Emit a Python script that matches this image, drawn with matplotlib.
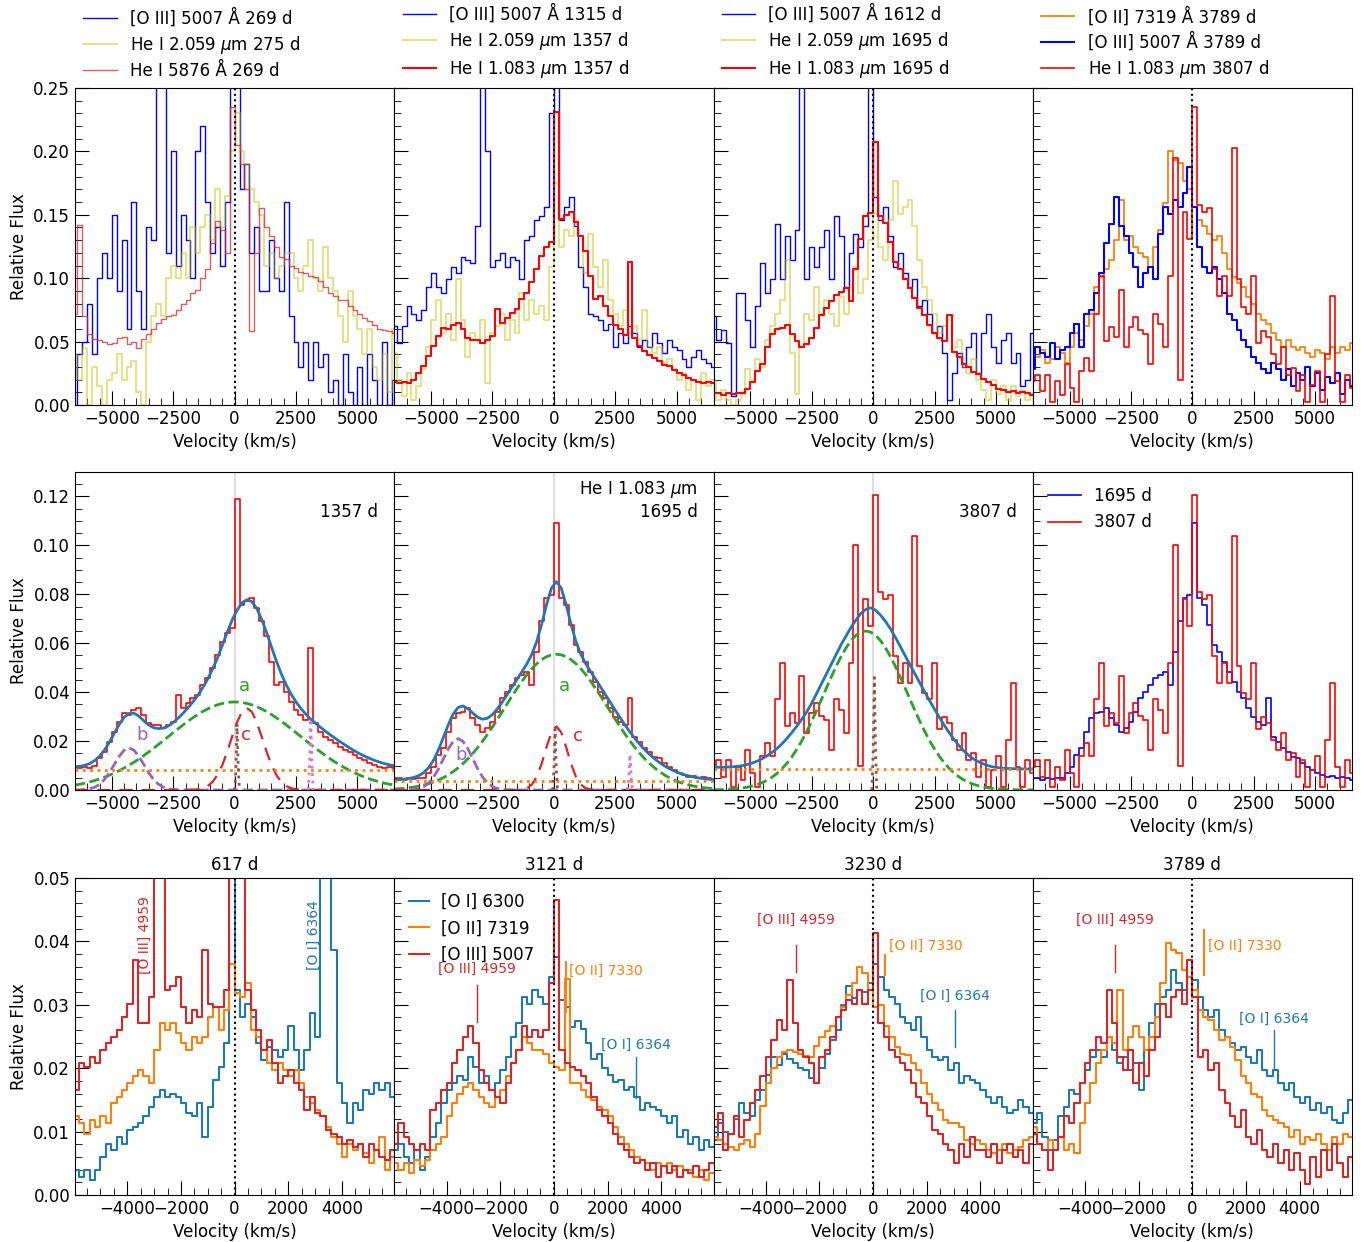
import numpy as np
import matplotlib
matplotlib.use('Agg')
import matplotlib.pyplot as plt
from matplotlib.ticker import MultipleLocator

plt.rcParams['font.size'] = 12

# velocity grids (km/s)
vel = np.arange(-6500, 6501, 200)    # rows 1-2
vel3 = np.arange(-6100, 6101, 200)   # row 3

# ---------------- row 1 spectra (relative flux) ----------------
o3_269 = [0.0, 0.04, 0.05, 0.08, 0.04, 0.10, 0.12, 0.10, 0.15, 0.09, 0.13,
          0.06, 0.16, 0.09, 0.06, 0.14, 0.13, 0.27, 0.27, 0.12, 0.20, 0.11,
          0.15, 0.13, 0.10, 0.20, 0.22, 0.16, 0.12, 0.14, 0.11, 0.16, 0.27,
          0.27, 0.17, 0.19, 0.12, 0.14, 0.09, 0.09, 0.13, 0.10, 0.09, 0.16,
          0.07, 0.05, 0.03, 0.05, 0.02, 0.05, 0.03, 0.04, 0.01, 0.02, 0.0,
          0.04, 0.01, 0.0, 0.03, 0.0, 0.04, 0.02, 0.0, 0.05, 0.0, 0.02]
hei2_275 = [0.04, 0.02, 0.045, 0.0, 0.03, 0.015, 0.0, 0.02, 0.025, 0.04, 0.02,
            0.03, 0.035, 0.01, 0.0, 0.05, 0.07, 0.08, 0.07, 0.10, 0.11, 0.10,
            0.12, 0.10, 0.14, 0.12, 0.14, 0.15, 0.13, 0.17, 0.14, 0.165, 0.20,
            0.23, 0.20, 0.19, 0.17, 0.16, 0.15, 0.11, 0.12, 0.10, 0.11, 0.12,
            0.12, 0.10, 0.09, 0.11, 0.13, 0.10, 0.09, 0.125, 0.10, 0.09, 0.07,
            0.05, 0.09, 0.07, 0.06, 0.04, 0.06, 0.03, 0.02, 0.04, 0.01, 0.06]
hei5876_269 = [0.072, 0.142, 0.070, 0.056, 0.052, 0.051, 0.050, 0.048, 0.049, 0.053, 0.054,
               0.048, 0.050, 0.045, 0.052, 0.056, 0.060, 0.065, 0.068, 0.070, 0.071, 0.075,
               0.080, 0.083, 0.088, 0.091, 0.100, 0.107, 0.128, 0.145, 0.138, 0.120, 0.235,
               0.205, 0.190, 0.170, 0.058, 0.120, 0.155, 0.140, 0.133, 0.125, 0.117, 0.115,
               0.110, 0.108, 0.105, 0.104, 0.102, 0.101, 0.098, 0.093, 0.088, 0.086, 0.083,
               0.083, 0.078, 0.075, 0.072, 0.069, 0.066, 0.063, 0.060, 0.059, 0.058, 0.057]

o3_1315 = [0.062, 0.049, 0.062, 0.078, 0.072, 0.067, 0.075, 0.093, 0.104, 0.093, 0.088,
           0.099, 0.109, 0.104, 0.117, 0.114, 0.112, 0.141, 0.27, 0.20, 0.109, 0.114,
           0.120, 0.109, 0.117, 0.114, 0.099, 0.130, 0.133, 0.146, 0.149, 0.156, 0.23,
           0.27, 0.146, 0.156, 0.164, 0.141, 0.109, 0.093, 0.072, 0.070, 0.067, 0.059,
           0.064, 0.046, 0.057, 0.049, 0.062, 0.057, 0.046, 0.051, 0.046, 0.057, 0.049,
           0.041, 0.051, 0.046, 0.043, 0.036, 0.030, 0.038, 0.043, 0.036, 0.033, 0.030]
hei2_1357 = [0.041, 0.020, 0.007, 0.025, 0.004, 0.015, 0.028, 0.046, 0.067, 0.083, 0.057,
             0.072, 0.051, 0.099, 0.067, 0.038, 0.057, 0.051, 0.067, 0.017, 0.057, 0.062,
             0.072, 0.051, 0.067, 0.057, 0.088, 0.067, 0.083, 0.072, 0.078, 0.067, 0.109,
             0.175, 0.125, 0.138, 0.133, 0.146, 0.133, 0.104, 0.135, 0.109, 0.093, 0.114,
             0.083, 0.072, 0.062, 0.075, 0.057, 0.062, 0.051, 0.075, 0.046, 0.041, 0.046,
             0.033, 0.036, 0.028, 0.020, 0.025, 0.012, 0.020, 0.004, 0.025, 0.015, 0.020]

o3_1612 = [0.070, 0.051, 0.059, 0.049, 0.007, 0.088, 0.088, 0.067, 0.046, 0.078, 0.112,
           0.088, 0.099, 0.143, 0.099, 0.133, 0.114, 0.138, 0.27, 0.099, 0.125, 0.109,
           0.125, 0.138, 0.099, 0.149, 0.133, 0.093, 0.120, 0.135, 0.125, 0.141, 0.27,
           0.164, 0.146, 0.156, 0.133, 0.109, 0.120, 0.104, 0.093, 0.099, 0.078, 0.083,
           0.072, 0.057, 0.062, 0.041, 0.004, 0.025, 0.041, 0.030, 0.046, 0.057, 0.025,
           0.057, 0.072, 0.046, 0.033, 0.051, 0.057, 0.033, 0.041, 0.015, 0.020, 0.057]
hei2_1695 = [0.020, 0.004, 0.012, 0.004, 0.0, 0.004, 0.009, 0.028, 0.020, 0.036, 0.030,
             0.051, 0.062, 0.072, 0.083, 0.114, 0.041, 0.009, 0.046, 0.072, 0.067, 0.093,
             0.072, 0.083, 0.072, 0.062, 0.085, 0.072, 0.093, 0.109, 0.088, 0.099, 0.130,
             0.151, 0.125, 0.114, 0.146, 0.177, 0.151, 0.156, 0.162, 0.141, 0.114, 0.093,
             0.083, 0.072, 0.057, 0.062, 0.067, 0.046, 0.051, 0.030, 0.025, 0.036, 0.020,
             0.012, 0.004, 0.020, 0.009, 0.015, 0.004, 0.015, 0.007, 0.012, 0.004, 0.009]

o2_3789_r1 = [0.046, 0.038, 0.043, 0.033, 0.036, 0.046, 0.041, 0.033, 0.046, 0.057, 0.051,
              0.062, 0.072, 0.093, 0.101, 0.107, 0.114, 0.130, 0.162, 0.130, 0.133, 0.125,
              0.120, 0.117, 0.109, 0.125, 0.138, 0.159, 0.200, 0.193, 0.191, 0.177, 0.170,
              0.156, 0.146, 0.141, 0.135, 0.130, 0.133, 0.120, 0.107, 0.101, 0.096, 0.093,
              0.085, 0.080, 0.072, 0.067, 0.064, 0.057, 0.051, 0.046, 0.051, 0.046, 0.043,
              0.046, 0.041, 0.038, 0.043, 0.041, 0.036, 0.046, 0.041, 0.046, 0.043, 0.049]
o3_3789_r1 = [0.028, 0.046, 0.041, 0.038, 0.049, 0.036, 0.043, 0.046, 0.057, 0.064, 0.046,
              0.072, 0.075, 0.088, 0.104, 0.128, 0.143, 0.164, 0.141, 0.133, 0.120, 0.109,
              0.093, 0.104, 0.109, 0.099, 0.135, 0.156, 0.151, 0.162, 0.156, 0.167, 0.188,
              0.156, 0.125, 0.109, 0.104, 0.109, 0.099, 0.088, 0.072, 0.067, 0.059, 0.051,
              0.046, 0.038, 0.033, 0.028, 0.025, 0.033, 0.028, 0.020, 0.028, 0.015, 0.025,
              0.020, 0.030, 0.015, 0.025, 0.012, 0.022, 0.017, 0.025, 0.009, 0.020, 0.015]

# ---------------- He I 1.083 um spectra (row 2 normalisation) ----------------
hei_1357 = [0.0095, 0.0091, 0.0095, 0.0090, 0.0100, 0.0130, 0.0157, 0.0198, 0.0239, 0.0280, 0.0314,
            0.0307, 0.0327, 0.0334, 0.0307, 0.0273, 0.0266, 0.0266, 0.0252, 0.0266, 0.0280, 0.0389,
            0.0334, 0.0355, 0.0375, 0.0389, 0.0430, 0.0457, 0.0498, 0.0552, 0.0607, 0.0641, 0.0662,
            0.1190, 0.0757, 0.0771, 0.0784, 0.0743, 0.0689, 0.0628, 0.0525, 0.0430, 0.0443, 0.0402,
            0.0361, 0.0327, 0.0307, 0.0286, 0.0580, 0.0273, 0.0239, 0.0218, 0.0205, 0.0191, 0.0177,
            0.0164, 0.0157, 0.0143, 0.0130, 0.0123, 0.0109, 0.0102, 0.0095, 0.0089, 0.0095, 0.0089]
hei_1695 = [0.0048, 0.0048, 0.0041, 0.0048, 0.0045, 0.0048, 0.0050, 0.0068, 0.0095, 0.0143, 0.0170,
            0.0239, 0.0293, 0.0314, 0.0320, 0.0334, 0.0293, 0.0266, 0.0239, 0.0252, 0.0280, 0.0320,
            0.0375, 0.0402, 0.0430, 0.0457, 0.0470, 0.0484, 0.0430, 0.0566, 0.0689, 0.0784, 0.0798,
            0.1090, 0.0784, 0.0757, 0.0675, 0.0593, 0.0566, 0.0525, 0.0484, 0.0443, 0.0402, 0.0375,
            0.0334, 0.0300, 0.0280, 0.0266, 0.0375, 0.0218, 0.0198, 0.0170, 0.0157, 0.0136, 0.0130,
            0.0109, 0.0095, 0.0082, 0.0068, 0.0061, 0.0055, 0.0059, 0.0048, 0.0055, 0.0048, 0.0041]
hei_3807 = [0.0096, 0.0123, 0.0055, 0.0123, 0.0014, 0.0096, 0.0041, 0.0165, 0.0069, 0.0014, 0.0137,
            0.0192, 0.0137, 0.0370, 0.0520, 0.0260, 0.0315, 0.0274, 0.0466, 0.0233, 0.0315, 0.0357,
            0.0302, 0.0288, 0.0165, 0.0370, 0.0329, 0.0233, 0.0520, 0.1000, 0.0100, 0.0782, 0.0672,
            0.1207, 0.0810, 0.0782, 0.0796, 0.0549, 0.0439, 0.0520, 0.0439, 0.1040, 0.0508, 0.0398,
            0.0370, 0.0520, 0.0250, 0.0300, 0.0274, 0.0206, 0.0165, 0.0233, 0.0123, 0.0150, 0.0055,
            0.0123, 0.0014, 0.0082, 0.0137, 0.0014, 0.0206, 0.0439, 0.0096, 0.0014, 0.0123, 0.0069]
scale_1357, scale_1695, scale_3807 = 1.94, 1.90, 1.95   # row-1 normalisation

# ---------------- row 2 fit components ----------------
p1_fit = [0.0095, 0.0097, 0.0101, 0.0108, 0.0120, 0.0138, 0.0163, 0.0195, 0.0232, 0.0268, 0.0297,
          0.0313, 0.0314, 0.0302, 0.0283, 0.0266, 0.0255, 0.0251, 0.0253, 0.0262, 0.0276, 0.0294,
          0.0314, 0.0336, 0.0360, 0.0387, 0.0418, 0.0453, 0.0494, 0.0540, 0.0592, 0.0645, 0.0695,
          0.0735, 0.0765, 0.0778, 0.0770, 0.0742, 0.0698, 0.0644, 0.0585, 0.0527, 0.0475, 0.0430,
          0.0392, 0.0360, 0.0333, 0.0310, 0.0290, 0.0272, 0.0256, 0.0240, 0.0225, 0.0211, 0.0197,
          0.0184, 0.0171, 0.0159, 0.0148, 0.0138, 0.0129, 0.0121, 0.0114, 0.0108, 0.0103, 0.0099]
p1_a = [0.00199, 0.00237, 0.0028, 0.00331, 0.00388, 0.00452, 0.00524, 0.00605, 0.00694, 0.00791, 0.00898,
        0.01013, 0.01136, 0.01268, 0.01408, 0.01554, 0.01706, 0.01862, 0.02022, 0.02184, 0.02345, 0.02505,
        0.0266, 0.0281, 0.02953, 0.03085, 0.03206, 0.03313, 0.03405, 0.03481, 0.03539, 0.03578, 0.03598,
        0.03598, 0.03578, 0.03539, 0.03481, 0.03405, 0.03313, 0.03206, 0.03085, 0.02953, 0.0281, 0.0266,
        0.02505, 0.02345, 0.02184, 0.02022, 0.01862, 0.01706, 0.01554, 0.01408, 0.01268, 0.01136, 0.01013,
        0.00898, 0.00791, 0.00694, 0.00605, 0.00524, 0.00452, 0.00388, 0.00331, 0.0028, 0.00237, 0.00199]
p1_b = [0.00002, 0.00007, 0.00019, 0.00049, 0.00113, 0.00233, 0.00429, 0.00707, 0.01043, 0.01377, 0.01627,
        0.0172, 0.01627, 0.01377, 0.01043, 0.00707, 0.00429, 0.00233, 0.00113, 0.00049, 0.00019, 0.00007,
        0.00002, 0, 0, 0, 0, 0, 0, 0, 0, 0, 0,
        0, 0, 0, 0, 0, 0, 0, 0, 0, 0, 0,
        0, 0, 0, 0, 0, 0, 0, 0, 0, 0, 0,
        0, 0, 0, 0, 0, 0, 0, 0, 0, 0, 0]
p1_c = [0, 0, 0, 0, 0, 0, 0, 0, 0, 0, 0,
        0, 0, 0, 0, 0, 0, 0, 0, 0, 0, 0,
        0.00001, 0.00004, 0.00011, 0.00029, 0.00072, 0.00162, 0.00329, 0.0061, 0.01026, 0.01571, 0.02188,
        0.02772, 0.03195, 0.0335, 0.03195, 0.02772, 0.02188, 0.01571, 0.01026, 0.0061, 0.00329, 0.00162,
        0.00072, 0.00029, 0.00011, 0.00004, 0.00001, 0, 0, 0, 0, 0, 0,
        0, 0, 0, 0, 0, 0, 0, 0, 0, 0, 0]
p1_cont = 0.0083
p1_narrow_v, p1_narrow_f = [0, 50, 100, 150, 200], [0, 0.008, 0.027, 0.008, 0]
p1_pink_v, p1_pink_f = [3000, 3050, 3100, 3150, 3200], [0, 0.01, 0.029, 0.01, 0]

p2_a = [0.0004, 0.00053, 0.00071, 0.00094, 0.00123, 0.00159, 0.00204, 0.00259, 0.00326, 0.00407, 0.00504,
        0.00618, 0.00751, 0.00905, 0.0108, 0.01277, 0.01496, 0.01738, 0.0200, 0.02282, 0.02579, 0.02888,
        0.03206, 0.03527, 0.03844, 0.04152, 0.04444, 0.04714, 0.04955, 0.05162, 0.05328, 0.0545, 0.05525,
        0.0555, 0.05525, 0.0545, 0.05328, 0.05162, 0.04955, 0.04714, 0.04444, 0.04152, 0.03844, 0.03527,
        0.03206, 0.02888, 0.02579, 0.02282, 0.0200, 0.01738, 0.01496, 0.01277, 0.0108, 0.00905, 0.00751,
        0.00618, 0.00504, 0.00407, 0.00326, 0.00259, 0.00204, 0.00159, 0.00123, 0.00094, 0.00071, 0.00053]
p2_b = [0.0, 0.00001, 0.00003, 0.00008, 0.00023, 0.0006, 0.00138, 0.00284, 0.00524, 0.00863, 0.01274,
        0.01681, 0.01987, 0.021, 0.01987, 0.01681, 0.01274, 0.00863, 0.00524, 0.00284, 0.00138, 0.0006,
        0.00023, 0.00008, 0.00003, 0.00001, 0, 0, 0, 0, 0, 0, 0,
        0, 0, 0, 0, 0, 0, 0, 0, 0, 0, 0,
        0, 0, 0, 0, 0, 0, 0, 0, 0, 0, 0,
        0, 0, 0, 0, 0, 0, 0, 0, 0, 0, 0]
p2_c = [0, 0, 0, 0, 0, 0, 0, 0, 0, 0, 0,
        0, 0, 0, 0, 0, 0, 0, 0, 0, 0, 0,
        0, 0, 0, 0.00005, 0.00021, 0.00074, 0.0022, 0.00536, 0.01069, 0.01751, 0.02355,
        0.026, 0.02355, 0.01751, 0.01069, 0.00536, 0.0022, 0.00074, 0.00021, 0.00005, 0, 0,
        0, 0, 0, 0, 0, 0, 0, 0, 0, 0, 0,
        0, 0, 0, 0, 0, 0, 0, 0, 0, 0, 0]
p2_cont = 0.0037
p2_narrow_v, p2_narrow_f = [-50, 0, 50, 100, 150], [0, 0.008, 0.025, 0.008, 0]
p2_pink_v, p2_pink_f = [3000, 3050, 3100, 3150, 3200], [0, 0.005, 0.0145, 0.005, 0]

p3_a = [0.00008, 0.00013, 0.00019, 0.00029, 0.00042, 0.0006, 0.00086, 0.00121, 0.00167, 0.00228, 0.00307,
        0.00408, 0.00534, 0.0069, 0.0088, 0.01106, 0.0137, 0.01674, 0.02018, 0.02399, 0.02813, 0.03254,
        0.03711, 0.04174, 0.04631, 0.05067, 0.05467, 0.05819, 0.06107, 0.06323, 0.06455, 0.065, 0.06455,
        0.06323, 0.06107, 0.05819, 0.05467, 0.05067, 0.04631, 0.04174, 0.03711, 0.03254, 0.02813, 0.02399,
        0.02018, 0.01674, 0.0137, 0.01106, 0.0088, 0.0069, 0.00534, 0.00408, 0.00307, 0.00228, 0.00167,
        0.00121, 0.00086, 0.0006, 0.00042, 0.00029, 0.00019, 0.00013, 0.00008, 0.00005, 0.00003, 0.00002]
p3_fit = [0.0093, 0.0093, 0.0093, 0.0094, 0.0095, 0.0097, 0.0100, 0.0105, 0.0111, 0.0119, 0.0129,
          0.0141, 0.0155, 0.0171, 0.0190, 0.0212, 0.0236, 0.0262, 0.0290, 0.0320, 0.0355, 0.0395,
          0.0435, 0.0475, 0.0515, 0.0555, 0.0595, 0.0630, 0.0665, 0.0695, 0.0722, 0.0738, 0.0745,
          0.0735, 0.0715, 0.0690, 0.0660, 0.0625, 0.0588, 0.0550, 0.0512, 0.0475, 0.0438, 0.0401,
          0.0365, 0.0330, 0.0296, 0.0264, 0.0234, 0.0206, 0.0181, 0.0159, 0.0141, 0.0126, 0.0115,
          0.0106, 0.0099, 0.0094, 0.0091, 0.0089, 0.0088, 0.0087, 0.0087, 0.0086, 0.0086, 0.0086]
p3_cont = 0.0085
p3_narrow_v, p3_narrow_f = [-50, 0, 50, 100, 150], [0, 0.015, 0.046, 0.015, 0]

# ---------------- row 3 spectra ----------------
o1_617 = [0.0045, 0.0039, 0.0029, 0.0039, 0.0024, 0.0039, 0.0060, 0.0081, 0.0071, 0.0092,
          0.0081, 0.0103, 0.0108, 0.0113, 0.0124, 0.0139, 0.0155, 0.0166, 0.0155, 0.0160,
          0.0155, 0.0145, 0.0129, 0.0124, 0.0145, 0.0092, 0.0139, 0.0181, 0.0202, 0.0239,
          0.0550, 0.0323, 0.0281, 0.0302, 0.0281, 0.0239, 0.0213, 0.0234, 0.0229, 0.0218,
          0.0229, 0.0266, 0.0229, 0.0197, 0.0229, 0.0287, 0.0250, 0.0550, 0.0550, 0.0386,
          0.0176, 0.0145, 0.0113, 0.0145, 0.0134, 0.0166, 0.0160, 0.0176, 0.0166, 0.0176,
          0.0155, 0.0150]
o2_617 = [0.0110, 0.0124, 0.0113, 0.0097, 0.0118, 0.0108, 0.0124, 0.0113, 0.0145, 0.0155,
          0.0166, 0.0176, 0.0187, 0.0197, 0.0187, 0.0176, 0.0229, 0.0271, 0.0260, 0.0271,
          0.0255, 0.0239, 0.0229, 0.0250, 0.0239, 0.0250, 0.0281, 0.0297, 0.0260, 0.0292,
          0.0365, 0.0318, 0.0313, 0.0334, 0.0260, 0.0250, 0.0229, 0.0208, 0.0197, 0.0208,
          0.0197, 0.0187, 0.0197, 0.0176, 0.0155, 0.0145, 0.0134, 0.0124, 0.0108, 0.0092,
          0.0081, 0.0060, 0.0081, 0.0071, 0.0081, 0.0066, 0.0050, 0.0071, 0.0092, 0.0039,
          0.0060, 0.0050]
o3_617 = [0.0200, 0.0166, 0.0208, 0.0202, 0.0218, 0.0208, 0.0229, 0.0239, 0.0250, 0.0260,
          0.0281, 0.0302, 0.0371, 0.0271, 0.0271, 0.0313, 0.0550, 0.0550, 0.0323, 0.0329,
          0.0344, 0.0297, 0.0271, 0.0292, 0.0281, 0.0386, 0.0302, 0.0297, 0.0297, 0.0323,
          0.0550, 0.0550, 0.0550, 0.0323, 0.0292, 0.0260, 0.0229, 0.0245, 0.0208, 0.0176,
          0.0187, 0.0197, 0.0176, 0.0166, 0.0134, 0.0155, 0.0129, 0.0124, 0.0103, 0.0097,
          0.0092, 0.0081, 0.0087, 0.0076, 0.0081, 0.0060, 0.0081, 0.0071, 0.0060, 0.0055,
          0.0071, 0.0065]

o1_3121 = [0.0065, 0.0071, 0.0081, 0.0060, 0.0050, 0.0071, 0.0039, 0.0060, 0.0092, 0.0113,
           0.0145, 0.0166, 0.0176, 0.0187, 0.0181, 0.0218, 0.0202, 0.0176, 0.0187, 0.0166,
           0.0176, 0.0197, 0.0218, 0.0250, 0.0271, 0.0313, 0.0302, 0.0323, 0.0313, 0.0302,
           0.0344, 0.0376, 0.0308, 0.0297, 0.0265, 0.0275, 0.0262, 0.0240, 0.0215, 0.0222,
           0.0200, 0.0190, 0.0178, 0.0181, 0.0166, 0.0171, 0.0155, 0.0134, 0.0145, 0.0139,
           0.0134, 0.0124, 0.0113, 0.0124, 0.0092, 0.0103, 0.0081, 0.0092, 0.0071, 0.0087,
           0.0076, 0.0080]
o2_3121 = [0.0045, 0.0050, 0.0039, 0.0050, 0.0034, 0.0055, 0.0045, 0.0055, 0.0071, 0.0081,
           0.0092, 0.0124, 0.0145, 0.0160, 0.0171, 0.0176, 0.0166, 0.0155, 0.0145, 0.0139,
           0.0155, 0.0166, 0.0187, 0.0208, 0.0229, 0.0250, 0.0239, 0.0229, 0.0229, 0.0223,
           0.0208, 0.0202, 0.0197, 0.0340, 0.0176, 0.0176, 0.0166, 0.0155, 0.0150, 0.0139,
           0.0134, 0.0124, 0.0108, 0.0092, 0.0081, 0.0071, 0.0060, 0.0055, 0.0050, 0.0039,
           0.0050, 0.0045, 0.0050, 0.0039, 0.0045, 0.0039, 0.0039, 0.0029, 0.0039, 0.0024,
           0.0034, 0.0030]
o3_3121 = [0.0090, 0.0081, 0.0113, 0.0092, 0.0081, 0.0071, 0.0081, 0.0071, 0.0134, 0.0145,
           0.0166, 0.0176, 0.0208, 0.0229, 0.0250, 0.0266, 0.0239, 0.0197, 0.0176, 0.0166,
           0.0155, 0.0145, 0.0176, 0.0208, 0.0229, 0.0266, 0.0250, 0.0260, 0.0250, 0.0260,
           0.0334, 0.0465, 0.0229, 0.0208, 0.0202, 0.0197, 0.0187, 0.0176, 0.0155, 0.0134,
           0.0124, 0.0113, 0.0097, 0.0081, 0.0071, 0.0060, 0.0050, 0.0055, 0.0039, 0.0050,
           0.0029, 0.0045, 0.0034, 0.0045, 0.0029, 0.0039, 0.0034, 0.0045, 0.0029, 0.0039,
           0.0050, 0.0045]

o1_3230 = [0.0085, 0.0087, 0.0113, 0.0100, 0.0097, 0.0120, 0.0145, 0.0130, 0.0124, 0.0150,
           0.0166, 0.0190, 0.0218, 0.0205, 0.0223, 0.0215, 0.0208, 0.0200, 0.0197, 0.0185,
           0.0176, 0.0200, 0.0223, 0.0245, 0.0260, 0.0300, 0.0329, 0.0310, 0.0323, 0.0320,
           0.0334, 0.0365, 0.0344, 0.0323, 0.0313, 0.0302, 0.0281, 0.0271, 0.0260, 0.0281,
           0.0250, 0.0229, 0.0218, 0.0213, 0.0218, 0.0197, 0.0208, 0.0176, 0.0187, 0.0181,
           0.0176, 0.0166, 0.0155, 0.0145, 0.0155, 0.0139, 0.0129, 0.0134, 0.0150, 0.0139,
           0.0129, 0.0135]
o2_3230 = [0.0085, 0.0092, 0.0087, 0.0081, 0.0076, 0.0071, 0.0080, 0.0087, 0.0075, 0.0097,
           0.0140, 0.0176, 0.0200, 0.0218, 0.0225, 0.0229, 0.0226, 0.0223, 0.0220, 0.0218,
           0.0235, 0.0250, 0.0258, 0.0266, 0.0280, 0.0297, 0.0315, 0.0334, 0.0360, 0.0350,
           0.0323, 0.0297, 0.0300, 0.0266, 0.0250, 0.0234, 0.0223, 0.0221, 0.0208, 0.0197,
           0.0176, 0.0160, 0.0145, 0.0134, 0.0118, 0.0113, 0.0113, 0.0108, 0.0087, 0.0081,
           0.0087, 0.0081, 0.0071, 0.0066, 0.0071, 0.0081, 0.0066, 0.0071, 0.0076, 0.0087,
           0.0092, 0.0090]
o3_3230 = [0.0060, 0.0108, 0.0129, 0.0071, 0.0097, 0.0124, 0.0092, 0.0118, 0.0145, 0.0166,
           0.0187, 0.0218, 0.0245, 0.0276, 0.0260, 0.0339, 0.0271, 0.0229, 0.0218, 0.0208,
           0.0176, 0.0218, 0.0229, 0.0250, 0.0281, 0.0292, 0.0308, 0.0302, 0.0323, 0.0302,
           0.0323, 0.0413, 0.0271, 0.0250, 0.0229, 0.0218, 0.0208, 0.0197, 0.0176, 0.0155,
           0.0145, 0.0124, 0.0103, 0.0097, 0.0081, 0.0071, 0.0050, 0.0081, 0.0060, 0.0092,
           0.0071, 0.0071, 0.0060, 0.0081, 0.0050, 0.0071, 0.0081, 0.0060, 0.0071, 0.0050,
           0.0081, 0.0070]

o1_3789 = [0.0110, 0.0113, 0.0129, 0.0092, 0.0071, 0.0087, 0.0124, 0.0139, 0.0166, 0.0160,
           0.0176, 0.0197, 0.0218, 0.0229, 0.0218, 0.0250, 0.0229, 0.0208, 0.0218, 0.0197,
           0.0208, 0.0166, 0.0229, 0.0271, 0.0302, 0.0313, 0.0323, 0.0355, 0.0334, 0.0323,
           0.0344, 0.0339, 0.0313, 0.0292, 0.0281, 0.0292, 0.0260, 0.0250, 0.0239, 0.0229,
           0.0234, 0.0218, 0.0208, 0.0229, 0.0197, 0.0187, 0.0197, 0.0176, 0.0166, 0.0176,
           0.0155, 0.0145, 0.0155, 0.0134, 0.0145, 0.0129, 0.0139, 0.0118, 0.0113, 0.0129,
           0.0150, 0.0145]
o2_3789 = [0.0100, 0.0108, 0.0081, 0.0071, 0.0087, 0.0071, 0.0092, 0.0071, 0.0081, 0.0066,
           0.0113, 0.0145, 0.0176, 0.0208, 0.0229, 0.0250, 0.0239, 0.0323, 0.0229, 0.0250,
           0.0266, 0.0250, 0.0229, 0.0250, 0.0281, 0.0334, 0.0397, 0.0386, 0.0381, 0.0355,
           0.0344, 0.0323, 0.0292, 0.0281, 0.0276, 0.0260, 0.0245, 0.0250, 0.0234, 0.0213,
           0.0187, 0.0176, 0.0160, 0.0155, 0.0134, 0.0124, 0.0118, 0.0113, 0.0108, 0.0092,
           0.0103, 0.0081, 0.0092, 0.0087, 0.0097, 0.0081, 0.0071, 0.0092, 0.0081, 0.0097,
           0.0092, 0.0090]
o3_3789 = [0.0090, 0.0097, 0.0081, 0.0071, 0.0039, 0.0071, 0.0092, 0.0124, 0.0113, 0.0145,
           0.0176, 0.0208, 0.0229, 0.0250, 0.0239, 0.0323, 0.0271, 0.0218, 0.0197, 0.0229,
           0.0176, 0.0208, 0.0187, 0.0229, 0.0250, 0.0302, 0.0281, 0.0313, 0.0323, 0.0302,
           0.0371, 0.0313, 0.0218, 0.0229, 0.0197, 0.0208, 0.0166, 0.0145, 0.0124, 0.0108,
           0.0134, 0.0092, 0.0081, 0.0103, 0.0071, 0.0060, 0.0081, 0.0050, 0.0071, 0.0039,
           0.0066, 0.0039, 0.0018, 0.0060, 0.0029, 0.0071, 0.0039, 0.0081, 0.0050, 0.0029,
           0.0060, 0.0050]

row3_epochs = ['617 d', '3121 d', '3230 d', '3789 d']
row3_spectra = [(o1_617, o2_617, o3_617), (o1_3121, o2_3121, o3_3121),
                (o1_3230, o2_3230, o3_3230), (o1_3789, o2_3789, o3_3789)]
row3_names = ['[O I] 6300', '[O II] 7319', '[O III] 5007']
row3_colors = ['tab:blue', 'tab:orange', 'tab:red']

# ---------------- layout ----------------
W, H = 1372, 1242
col_left = [75, 394.25, 713.5, 1032.75]
col_w = 319.25
rows_px = [(88, 405), (472, 790), (878, 1195)]

fig = plt.figure(figsize=(W / 100, H / 100), dpi=100)


def make_ax(r, c):
    top, bot = rows_px[r]
    return fig.add_axes([col_left[c] / W, (H - bot) / H, col_w / W, (bot - top) / H])


def style(ax, c, xlim, xmaj, ylim, ymaj, ymin):
    ax.set_xlim(-xlim, xlim)
    ax.set_ylim(0, ylim)
    ax.xaxis.set_major_locator(MultipleLocator(xmaj))
    ax.xaxis.set_minor_locator(MultipleLocator(500))
    ax.yaxis.set_major_locator(MultipleLocator(ymaj))
    ax.yaxis.set_minor_locator(MultipleLocator(ymin))
    ax.tick_params(which='both', direction='in', labelsize=12)
    ax.tick_params(which='major', length=10)
    ax.tick_params(which='minor', length=5)
    ax.set_xlabel('Velocity (km/s)', fontsize=12)
    if c == 0:
        ax.set_ylabel('Relative Flux', fontsize=12)
    else:
        ax.tick_params(labelleft=False)


def step(ax, x, y, **kw):
    return ax.plot(x, y, drawstyle='steps-mid', **kw)


# ---------------- row 1 ----------------
hei_1357_r1 = np.array(hei_1357) * scale_1357
hei_1695_r1 = np.array(hei_1695) * scale_1695
hei_3807_r1 = np.array(hei_3807) * scale_3807

row1 = [
    [(o3_269, dict(color='b', lw=1), r'[O III] 5007 Å 269 d'),
     (hei2_275, dict(color='y', alpha=0.45, lw=1.5), r'He I 2.059 $\mu$m 275 d'),
     (hei5876_269, dict(color='tab:red', alpha=0.75, lw=1), r'He I 5876 Å 269 d')],
    [(o3_1315, dict(color='b', lw=1), r'[O III] 5007 Å 1315 d'),
     (hei2_1357, dict(color='y', alpha=0.45, lw=1.5), r'He I 2.059 $\mu$m 1357 d'),
     (hei_1357_r1, dict(color='r', lw=1.5), r'He I 1.083 $\mu$m 1357 d')],
    [(o3_1612, dict(color='b', lw=1), r'[O III] 5007 Å 1612 d'),
     (hei2_1695, dict(color='y', alpha=0.45, lw=1.5), r'He I 2.059 $\mu$m 1695 d'),
     (hei_1695_r1, dict(color='r', lw=1.5), r'He I 1.083 $\mu$m 1695 d')],
    [(o2_3789_r1, dict(color='tab:orange', lw=1.3), r'[O II] 7319 Å 3789 d'),
     (o3_3789_r1, dict(color='b', lw=1.5), r'[O III] 5007 Å 3789 d'),
     (hei_3807_r1, dict(color='r', lw=1.2), r'He I 1.083 $\mu$m 3807 d')],
]
for c, series in enumerate(row1):
    ax = make_ax(0, c)
    for y, kw, lab in series:
        step(ax, vel, y, label=lab, **kw)
    ax.axvline(0, color='k', ls=':', lw=1.5, zorder=5)
    style(ax, c, 6500, 2500, 0.25, 0.05, 0.01)
    ax.legend(loc='lower left', bbox_to_anchor=(0, 1), frameon=False,
              fontsize=12, borderaxespad=0.1, labelspacing=0.36)

# ---------------- row 2 ----------------
fit2 = np.array(p2_a) + np.array(p2_b) + np.array(p2_c) + p2_cont

panels2 = [
    dict(data=hei_1357, fit=p1_fit, a=p1_a, b=p1_b, c=p1_c, cont=p1_cont,
         narrow=(p1_narrow_v, p1_narrow_f), pink=(p1_pink_v, p1_pink_f),
         text='1357 d', lab_a=(390, 0.0426), lab_b=(-3770, 0.0225), lab_c=(470, 0.0225)),
    dict(data=hei_1695, fit=fit2, a=p2_a, b=p2_b, c=p2_c, cont=p2_cont,
         narrow=(p2_narrow_v, p2_narrow_f), pink=(p2_pink_v, p2_pink_f),
         text='He I 1.083 $\\mu$m\n1695 d', lab_a=(420, 0.0426), lab_b=(-3780, 0.0143),
         lab_c=(990, 0.022)),
    dict(data=hei_3807, fit=p3_fit, a=p3_a, b=None, c=None, cont=p3_cont,
         narrow=(p3_narrow_v, p3_narrow_f), pink=None, text='3807 d'),
]
for c, p in enumerate(panels2):
    ax = make_ax(1, c)
    ax.axvline(0, color='0.85', lw=1.2, zorder=0)
    step(ax, vel, p['data'], color='r', lw=1.2)
    ax.plot(vel, p['fit'], color='tab:blue', lw=2)
    ax.plot(vel, p['a'], '--', color='tab:green', lw=2)
    if p['b'] is not None:
        ax.plot(vel, p['b'], '--', color='tab:purple', lw=2)
        ax.plot(vel, p['c'], '--', color='tab:red', lw=1.6, dashes=(6, 4))
    ax.plot([-6500, 6500], [p['cont'], p['cont']], ':', color='tab:orange', lw=2)
    ax.plot(p['narrow'][0], p['narrow'][1], ':', color='tab:brown', lw=2)
    if p['pink'] is not None:
        ax.plot(p['pink'][0], p['pink'][1], ':', color='tab:pink', lw=2)
        ax.text(*p['lab_a'], 'a', color='tab:green', fontsize=13, ha='center', va='center')
        ax.text(*p['lab_b'], 'b', color='tab:purple', fontsize=13, ha='center', va='center')
        ax.text(*p['lab_c'], 'c', color='tab:red', fontsize=13, ha='center', va='center')
    ax.text(0.95, 0.845, p['text'], transform=ax.transAxes, ha='right', va='bottom',
            fontsize=12)
    style(ax, c, 6500, 2500, 0.13, 0.02, 0.005)

ax = make_ax(1, 3)
step(ax, vel, hei_1695, color='b', lw=1.2, label='1695 d')
step(ax, vel, hei_3807, color='r', lw=1.2, label='3807 d')
ax.legend(loc='upper left', frameon=False, fontsize=12)
style(ax, 3, 6500, 2500, 0.13, 0.02, 0.005)

# ---------------- row 3 ----------------
# marker ticks: (x, y0, y1, text y) for [O III] 4959, [O II] 7330, [O I] 6364
markers = [
    None,
    dict(o3=(-2870, 0.0273, 0.0332, 0.0345), o2=(450, 0.0289, 0.0367, 0.0354),
         o1=(3046, 0.0153, 0.0218, 0.0226)),
    dict(o3=(-2870, 0.0352, 0.0394, 0.0423), o2=(450, 0.0347, 0.0379, 0.0393),
         o1=(3046, 0.0233, 0.0292, 0.0303)),
    dict(o3=(-2870, 0.0352, 0.0394, 0.0423), o2=(450, 0.0347, 0.0418, 0.0393),
         o1=(3046, 0.0200, 0.0260, 0.0266)),
]
for c in range(4):
    ax = make_ax(2, c)
    for y, name, col in zip(row3_spectra[c], row3_names, row3_colors):
        step(ax, vel3, y, color=col, lw=1.5, label=name)
    ax.axvline(0, color='k', ls=':', lw=1.5, zorder=5)
    ax.set_title(row3_epochs[c], fontsize=12)
    style(ax, c, 5950, 2000, 0.05, 0.01, 0.002)
    m = markers[c]
    if m is None:
        ax.text(-3350, 0.041, '[O III] 4959', color='tab:red', rotation=90,
                ha='center', va='center', fontsize=10)
        ax.text(2950, 0.041, '[O I] 6364', color='tab:blue', rotation=90,
                ha='center', va='center', fontsize=10)
    else:
        x, y0, y1, ty = m['o3']
        ax.plot([x, x], [y0, y1], color='tab:red', lw=1)
        ax.text(x, ty, '[O III] 4959', color='tab:red', ha='center', va='bottom', fontsize=10)
        x, y0, y1, ty = m['o2']
        ax.plot([x, x], [y0, y1], color='tab:orange', lw=1.5)
        ax.text(580, ty, '[O II] 7330', color='tab:orange', ha='left', va='center', fontsize=10)
        x, y0, y1, ty = m['o1']
        ax.plot([x, x], [y0, y1], color='tab:blue', lw=1)
        ax.text(x, ty, '[O I] 6364', color='tab:blue', ha='center', va='bottom', fontsize=10)
    if c == 1:
        ax.legend(loc='upper left', frameon=False, fontsize=12, handlelength=1.2,
                  handletextpad=0.7)

fig.savefig('out.png', dpi=100)
